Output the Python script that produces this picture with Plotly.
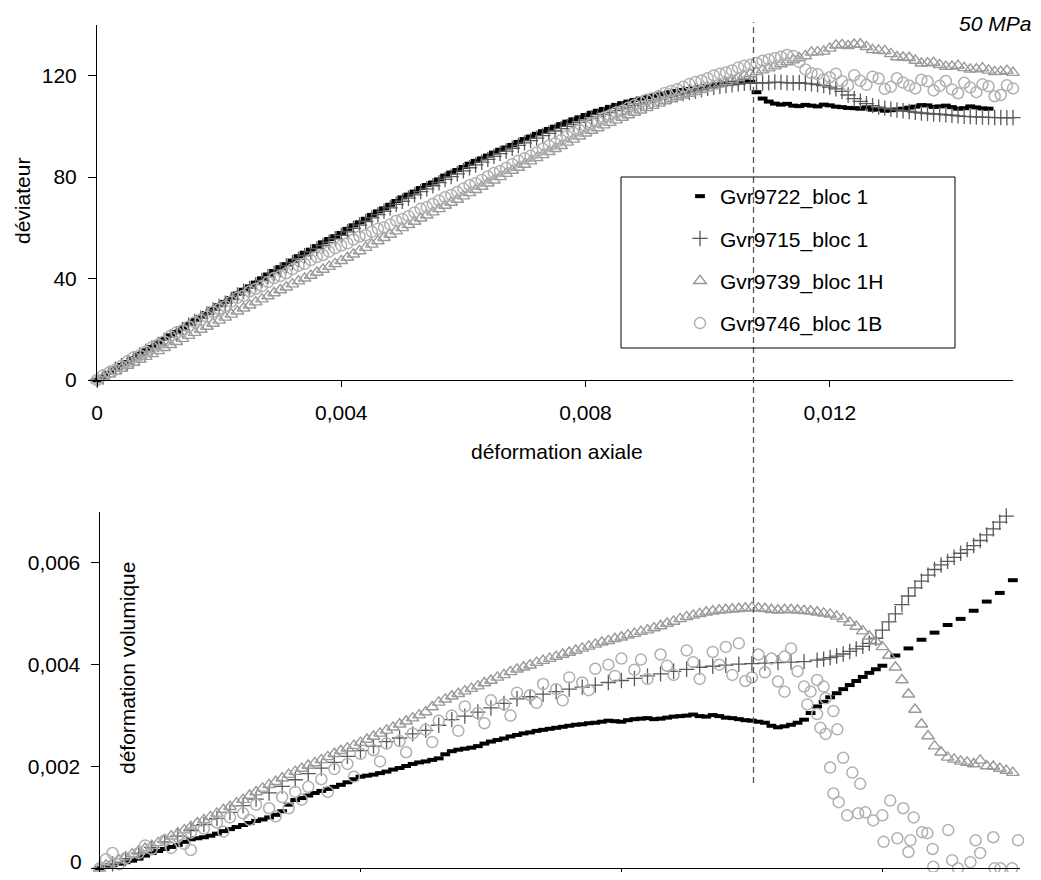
import plotly.graph_objects as go

# ---------------- data ----------------
series_names = ["Gvr9722_bloc 1", "Gvr9715_bloc 1", "Gvr9739_bloc 1H", "Gvr9746_bloc 1B"]

# axial strain (top panel)
strain_top = [
    0.0000, 0.0001, 0.0002, 0.0003, 0.0004, 0.0005, 0.0006, 0.0007, 0.0008, 0.0009,
    0.0010, 0.0011, 0.0012, 0.0013, 0.0014, 0.0015, 0.0016, 0.0017, 0.0018, 0.0019,
    0.0020, 0.0021, 0.0022, 0.0023, 0.0024, 0.0025, 0.0026, 0.0027, 0.0028, 0.0029,
    0.0030, 0.0031, 0.0032, 0.0033, 0.0034, 0.0035, 0.0036, 0.0037, 0.0038, 0.0039,
    0.0040, 0.0041, 0.0042, 0.0043, 0.0044, 0.0045, 0.0046, 0.0047, 0.0048, 0.0049,
    0.0050, 0.0051, 0.0052, 0.0053, 0.0054, 0.0055, 0.0056, 0.0057, 0.0058, 0.0059,
    0.0060, 0.0061, 0.0062, 0.0063, 0.0064, 0.0065, 0.0066, 0.0067, 0.0068, 0.0069,
    0.0070, 0.0071, 0.0072, 0.0073, 0.0074, 0.0075, 0.0076, 0.0077, 0.0078, 0.0079,
    0.0080, 0.0081, 0.0082, 0.0083, 0.0084, 0.0085, 0.0086, 0.0087, 0.0088, 0.0089,
    0.0090, 0.0091, 0.0092, 0.0093, 0.0094, 0.0095, 0.0096, 0.0097, 0.0098, 0.0099,
    0.0100, 0.0101, 0.0102, 0.0103, 0.0104, 0.0105, 0.0106, 0.0107, 0.0108, 0.0109,
    0.0110, 0.0111, 0.0112, 0.0113, 0.0114, 0.0115, 0.0116, 0.0117, 0.0118, 0.0119,
    0.0120, 0.0121, 0.0122, 0.0123, 0.0124, 0.0125, 0.0126, 0.0127, 0.0128, 0.0129,
    0.0130, 0.0131, 0.0132, 0.0133, 0.0134, 0.0135, 0.0136, 0.0137, 0.0138, 0.0139,
    0.0140, 0.0141, 0.0142, 0.0143, 0.0144, 0.0145, 0.0146, 0.0147, 0.0148, 0.0149,
    0.0150]

# deviatoric stress (MPa)
dev_9722 = [
    0, 1.3, 2.8, 4.5, 5.9, 7.1, 8.6, 10.3, 11.7, 13.0,
    14.5, 16.2, 17.6, 18.9, 20.4, 22.1, 23.6, 24.9, 26.4, 28.1,
    29.5, 30.8, 32.3, 34.1, 35.6, 36.9, 38.4, 40.1, 41.6, 43.0,
    44.5, 45.7, 47.1, 48.8, 50.2, 51.4, 52.8, 54.3, 55.6, 56.7,
    58.0, 59.6, 61.0, 62.2, 63.6, 65.1, 66.5, 67.7, 69.1, 70.6,
    72.0, 73.1, 74.3, 75.7, 76.9, 77.9, 79.1, 80.6, 81.8, 82.8,
    84.0, 85.3, 86.4, 87.4, 88.5, 89.7, 90.8, 91.7, 92.7, 93.9,
    95.0, 96.0, 97.1, 98.1, 99.0, 99.9, 100.9, 101.9, 102.8, 103.6,
    104.5, 105.4, 106.2, 106.9, 107.7, 108.5, 109.2, 109.8, 110.4, 111.0,
    111.5, 112.1, 112.6, 113.0, 113.5, 114.0, 114.4, 114.8, 115.2, 115.6,
    116.0, 116.3, 116.6, 116.9, 117.2, 117.5, 117.8, 117.6, 113.5, 111.0,
    109.8, 109.0, 108.6, 108.9, 108.2, 108.0, 108.5, 108.2, 107.9, 108.6,
    108.3, 107.8, 107.6, 107.3, 107.2, 107.0, 107.5, 106.6, 106.8, 106.2,
    106.4, 106.7, 107.0, 107.4, 107.8, 108.4, 108.3, 107.7, 107.9, 108.2,
    107.6, 107.0, 107.2, 107.9, 107.5, 107.1, 107.0, None, None, None,
    None]

dev_9715 = [
    0, 1.2, 2.7, 4.3, 5.6, 6.9, 8.4, 9.9, 11.3, 12.6,
    14.0, 15.6, 17.0, 18.3, 19.9, 21.6, 23.1, 24.4, 26.0, 27.6,
    29.0, 30.3, 31.8, 33.5, 34.9, 36.1, 37.6, 39.3, 40.8, 42.0,
    43.5, 45.0, 46.3, 47.6, 49.0, 50.5, 51.8, 53.0, 54.3, 55.7,
    57.0, 58.4, 59.8, 61.1, 62.5, 63.9, 65.2, 66.5, 67.9, 69.3,
    70.5, 71.7, 73.0, 74.3, 75.4, 76.6, 77.8, 79.1, 80.2, 81.3,
    82.5, 83.7, 84.8, 85.9, 87.0, 88.2, 89.3, 90.3, 91.4, 92.5,
    93.5, 94.4, 95.4, 96.4, 97.3, 98.2, 99.1, 100.0, 100.8, 101.6,
    102.5, 103.3, 104.0, 104.7, 105.5, 106.2, 106.9, 107.6, 108.3, 108.9,
    109.5, 110.2, 110.8, 111.4, 112.0, 112.5, 113.0, 113.5, 114.0, 114.5,
    115.0, 115.4, 115.8, 116.1, 116.4, 116.7, 117.0, 117.2, 117.3, 117.1,
    117.2, 117.5, 117.4, 117.2, 117.1, 117.3, 117.0, 116.8, 116.5, 116.1,
    115.5, 114.8, 113.8, 112.4, 111.0, 109.9, 109.0, 108.2, 107.6, 107.2,
    106.8, 106.5, 106.2, 105.9, 105.6, 105.3, 105.1, 104.9, 104.8, 104.6,
    104.4, 104.2, 104.0, 103.9, 103.8, 103.7, 103.6, 103.5, 103.5, 103.4,
    103.5]

dev_9739 = [
    0, 1.0, 2.2, 3.4, 4.5, 5.7, 6.9, 8.1, 9.2, 10.3,
    11.5, 12.7, 13.9, 15.1, 16.3, 17.5, 18.7, 19.9, 21.1, 22.3,
    23.5, 24.7, 25.9, 27.1, 28.3, 29.5, 30.7, 31.9, 33.1, 34.3,
    35.5, 36.6, 37.8, 39.0, 40.1, 41.2, 42.4, 43.6, 44.7, 45.8,
    47.0, 48.3, 49.6, 50.9, 52.2, 53.5, 54.8, 56.1, 57.4, 58.7,
    60.0, 61.2, 62.5, 63.8, 65.0, 66.2, 67.5, 68.8, 70.0, 71.2,
    72.5, 73.8, 75.0, 76.3, 77.6, 78.8, 80.1, 81.4, 82.6, 83.8,
    85.0, 86.3, 87.6, 88.8, 90.0, 91.2, 92.4, 93.7, 94.9, 96.1,
    97.3, 98.4, 99.4, 100.5, 101.5, 102.5, 103.5, 104.5, 105.5, 106.4,
    107.3, 108.2, 109.1, 110.0, 110.8, 111.6, 112.3, 113.0, 113.7, 114.4,
    115.1, 115.9, 116.7, 117.5, 118.3, 119.1, 119.9, 120.7, 121.5, 122.2,
    123.0, 123.8, 124.6, 125.4, 126.2, 127.0, 127.8, 129.2, 129.3, 129.6,
    130.8, 132.0, 132.2, 131.8, 132.3, 132.4, 131.4, 130.2, 130.0, 129.8,
    128.6, 127.4, 127.2, 127.1, 126.0, 124.9, 125.0, 125.2, 124.3, 123.6,
    123.7, 124.0, 123.1, 122.5, 122.6, 123.0, 122.1, 121.5, 121.6, 122.0,
    121.2]

dev_9746 = [
    0, 1.8, 3.0, 4.0, 5.5, 7.4, 8.9, 9.8, 11.2, 12.9,
    14.0, 15.2, 17.3, 18.7, 19.6, 21.0, 22.8, 23.6, 25.0, 26.8,
    28.0, 29.1, 30.9, 32.4, 33.2, 34.9, 36.0, 37.0, 38.6, 40.2,
    41.0, 42.1, 43.7, 45.1, 45.8, 47.3, 48.5, 49.3, 50.6, 52.0,
    53.0, 53.9, 55.4, 56.6, 57.1, 58.5, 59.6, 60.2, 61.3, 62.8,
    63.5, 64.6, 66.1, 67.5, 68.2, 69.4, 70.8, 72.1, 73.0, 74.1,
    75.5, 76.8, 77.6, 78.9, 80.3, 81.6, 82.4, 83.6, 85.1, 86.5,
    87.5, 88.4, 89.7, 91.2, 92.4, 93.3, 94.6, 96.2, 97.5, 98.6,
    100.0, 101.2, 102.0, 103.3, 104.3, 105.5, 106.2, 107.4, 108.4, 109.6,
    110.5, 111.1, 112.0, 113.2, 114.0, 114.7, 115.6, 116.7, 117.5, 118.1,
    119.0, 120.1, 120.8, 121.3, 122.1, 123.2, 123.9, 124.3, 125.0, 125.9,
    126.4, 126.9, 127.5, 128.2, 127.8, 125.4, 122.5, 121.0, 120.6, 118.5,
    119.4, 120.8, 117.8, 116.2, 120.2, 118.0, 116.4, 119.6, 118.9, 114.8,
    115.6, 119.0, 117.3, 116.1, 115.0, 118.4, 117.8, 114.2, 116.0, 117.9,
    114.6, 113.1, 117.2, 115.4, 113.5, 116.6, 115.8, 111.9, 112.4, 116.2,
    115.0]

# axial strain (bottom panel)
strain_bot = [
    0.0000, 0.0001, 0.0002, 0.0003, 0.0004, 0.0005, 0.0006, 0.0007, 0.0008, 0.0009,
    0.0010, 0.0011, 0.0012, 0.0013, 0.0014, 0.0015, 0.0016, 0.0017, 0.0018, 0.0019,
    0.0020, 0.0021, 0.0022, 0.0023, 0.0024, 0.0025, 0.0026, 0.0027, 0.0028, 0.0029,
    0.0030, 0.0031, 0.0032, 0.0033, 0.0034, 0.0035, 0.0036, 0.0037, 0.0038, 0.0039,
    0.0040, 0.0041, 0.0042, 0.0043, 0.0044, 0.0045, 0.0046, 0.0047, 0.0048, 0.0049,
    0.0050, 0.0051, 0.0052, 0.0053, 0.0054, 0.0055, 0.0056, 0.0057, 0.0058, 0.0059,
    0.0060, 0.0061, 0.0062, 0.0063, 0.0064, 0.0065, 0.0066, 0.0067, 0.0068, 0.0069,
    0.0070, 0.0071, 0.0072, 0.0073, 0.0074, 0.0075, 0.0076, 0.0077, 0.0078, 0.0079,
    0.0080, 0.0081, 0.0082, 0.0083, 0.0084, 0.0085, 0.0086, 0.0087, 0.0088, 0.0089,
    0.0090, 0.0091, 0.0092, 0.0093, 0.0094, 0.0095, 0.0096, 0.0097, 0.0098, 0.0099,
    0.0100, 0.0101, 0.0102, 0.0103, 0.0104, 0.0105, 0.0106, 0.0107, 0.0108, 0.0109,
    0.0110, 0.0111, 0.0112, 0.0113, 0.0114, 0.0115, 0.0116, 0.0117, 0.0118, 0.0119,
    0.0120, 0.0121, 0.0122, 0.0123, 0.0124, 0.0125, 0.0126, 0.0127, 0.0128, 0.0129,
    0.0130, 0.0131, 0.0132, 0.0133, 0.0134, 0.0135, 0.0136, 0.0137, 0.0138, 0.0139,
    0.0140]

# volumetric strain
vol_9722 = [
    0.00000, 0.00003, 0.00006, 0.00009, 0.00012, 0.00015, 0.00019, 0.00025, 0.00030, 0.00034,
    0.00038, 0.00042, 0.00046, 0.00052, 0.00057, 0.00059, 0.00061, 0.00064, 0.00068, 0.00073,
    0.00077, 0.00081, 0.00085, 0.00089, 0.00093, 0.00096, 0.00100, 0.00105, 0.00112, 0.00125,
    0.00134, 0.00138, 0.00143, 0.00148, 0.00152, 0.00156, 0.00160, 0.00164, 0.00169, 0.00175,
    0.00180, 0.00182, 0.00184, 0.00187, 0.00190, 0.00194, 0.00197, 0.00201, 0.00205, 0.00208,
    0.00210, 0.00213, 0.00216, 0.00224, 0.00230, 0.00233, 0.00235, 0.00237, 0.00240, 0.00245,
    0.00249, 0.00252, 0.00255, 0.00259, 0.00262, 0.00265, 0.00267, 0.00270, 0.00272, 0.00274,
    0.00276, 0.00278, 0.00280, 0.00282, 0.00283, 0.00285, 0.00286, 0.00288, 0.00290, 0.00289,
    0.00288, 0.00291, 0.00293, 0.00294, 0.00295, 0.00293, 0.00294, 0.00296, 0.00298, 0.00299,
    0.00300, 0.00302, 0.00299, 0.00298, 0.00301, 0.00299, 0.00296, 0.00295, 0.00293, 0.00291,
    0.00290, 0.00288, 0.00286, 0.00280, 0.00277, 0.00279, 0.00282, 0.00286, 0.00292, 0.00305,
    0.00318, 0.00327, 0.00336, 0.00344, 0.00352, 0.00360, 0.00368, 0.00376, 0.00384, 0.00391,
    0.00398, None, 0.00418, None, 0.00432, None, 0.00449, None, 0.00463, None,
    0.00478, None, 0.00490, None, 0.00506, None, 0.00524, None, 0.00541, None,
    0.00566]

vol_9739 = [
    0.00000, 0.00006, 0.00011, 0.00016, 0.00022, 0.00028, 0.00033, 0.00039, 0.00044, 0.00050,
    0.00056, 0.00063, 0.00069, 0.00075, 0.00082, 0.00089, 0.00095, 0.00101, 0.00108, 0.00115,
    0.00121, 0.00128, 0.00135, 0.00143, 0.00150, 0.00157, 0.00164, 0.00170, 0.00177, 0.00184,
    0.00190, 0.00196, 0.00202, 0.00207, 0.00213, 0.00219, 0.00225, 0.00231, 0.00236, 0.00241,
    0.00247, 0.00253, 0.00259, 0.00265, 0.00271, 0.00277, 0.00283, 0.00289, 0.00295, 0.00301,
    0.00307, 0.00317, 0.00326, 0.00332, 0.00338, 0.00343, 0.00348, 0.00353, 0.00358, 0.00364,
    0.00369, 0.00375, 0.00380, 0.00386, 0.00391, 0.00395, 0.00399, 0.00404, 0.00408, 0.00412,
    0.00416, 0.00420, 0.00424, 0.00428, 0.00432, 0.00436, 0.00440, 0.00444, 0.00447, 0.00451,
    0.00454, 0.00458, 0.00461, 0.00465, 0.00468, 0.00472, 0.00476, 0.00481, 0.00485, 0.00490,
    0.00494, 0.00497, 0.00500, 0.00503, 0.00505, 0.00507, 0.00508, 0.00509, 0.00510, 0.00511,
    0.00512, 0.00511, 0.00510, 0.00508, 0.00507, 0.00508, 0.00508, 0.00507, 0.00506, 0.00505,
    0.00503, 0.00501, 0.00499, 0.00495, 0.00490, 0.00483, 0.00475, 0.00466, 0.00456, 0.00446,
    0.00435, 0.00418, 0.00395, 0.00370, 0.00342, 0.00312, 0.00283, 0.00260, 0.00240, 0.00228,
    0.00218, 0.00214, 0.00210, 0.00208, 0.00205, 0.00212, 0.00201, 0.00200, 0.00196, 0.00192,
    0.00188]

strain_bot_9715 = [
    0.0000, 0.0002, 0.0004, 0.0006, 0.0008, 0.0010, 0.0012, 0.0014, 0.0016, 0.0018,
    0.0020, 0.0022, 0.0024, 0.0026, 0.0028, 0.0030, 0.0032, 0.0034, 0.0036, 0.0038,
    0.0040, 0.0042, 0.0044, 0.0046, 0.0048, 0.0050, 0.0052, 0.0054, 0.0056, 0.0058,
    0.0060, 0.0062, 0.0064, 0.0066, 0.0068, 0.0070, 0.0072, 0.0074, 0.0076, 0.0078,
    0.0080, 0.0082, 0.0084, 0.0086, 0.0088, 0.0090, 0.0092, 0.0094, 0.0096, 0.0098,
    0.0100, 0.0102, 0.0104, 0.0106, 0.0108, 0.0110,
    0.0111, 0.0112, 0.0113, 0.0114, 0.0115, 0.0116, 0.0117, 0.0118, 0.0119, 0.0120,
    0.0121, 0.0122, 0.0123, 0.0124, 0.0125, 0.0126, 0.0127, 0.0128, 0.0129, 0.0130,
    0.0131, 0.0132, 0.0133, 0.0134, 0.0135, 0.0136, 0.0137, 0.0138, 0.0139]

vol_9715 = [
    0.00000, 0.00009, 0.00019, 0.00030, 0.00041, 0.00052, 0.00063, 0.00074, 0.00086, 0.00098,
    0.00110, 0.00123, 0.00136, 0.00148, 0.00161, 0.00174, 0.00186, 0.00197, 0.00208, 0.00220,
    0.00231, 0.00240, 0.00249, 0.00256, 0.00264, 0.00271, 0.00281, 0.00292, 0.00299, 0.00307,
    0.00315, 0.00324, 0.00333, 0.00337, 0.00342, 0.00347, 0.00352, 0.00356, 0.00360, 0.00365,
    0.00369, 0.00373, 0.00378, 0.00382, 0.00387, 0.00391, 0.00395, 0.00397, 0.00399, 0.00401,
    0.00402, 0.00403, 0.00404, 0.00405, 0.00406, 0.00409,
    0.00411, 0.00414, 0.00417, 0.00421, 0.00426, 0.00431, 0.00436, 0.00442, 0.00452, 0.00468,
    0.00484, 0.00500, 0.00518, 0.00535, 0.00551, 0.00564, 0.00576, 0.00587, 0.00596, 0.00603,
    0.00611, 0.00619, 0.00626, 0.00634, 0.00644, 0.00655, 0.00667, 0.00680, 0.00692]

strain_bot_9746 = [
    0.0000, 0.0001, 0.0002, 0.0003, 0.0004, 0.0006, 0.0007, 0.0008, 0.0010, 0.0011,
    0.0012, 0.0013, 0.0014, 0.0014, 0.0016, 0.0018, 0.0019, 0.0020, 0.0022, 0.0023,
    0.0024, 0.0026, 0.0027, 0.0028, 0.0029, 0.0030, 0.0031, 0.0032, 0.0034, 0.0035,
    0.0036, 0.0038, 0.0039, 0.0040, 0.0042, 0.0043, 0.0044, 0.0046, 0.0047, 0.0048,
    0.0050, 0.0051, 0.0052, 0.0054, 0.0055, 0.0056, 0.0058, 0.0059, 0.0060, 0.0062,
    0.0063, 0.0064, 0.0066, 0.0067, 0.0068, 0.0070, 0.0071, 0.0072, 0.0074, 0.0075,
    0.0076, 0.0078, 0.0079, 0.0080, 0.0082, 0.0083, 0.0084, 0.0086, 0.0087, 0.0088,
    0.0090, 0.0091, 0.0092, 0.0094, 0.0095,
    0.0096, 0.0097, 0.0098, 0.0099, 0.0100, 0.0101, 0.0102, 0.0103, 0.0104, 0.0105,
    0.0105, 0.0106, 0.0107, 0.0108, 0.01085, 0.0109, 0.0110, 0.0110, 0.0111, 0.01113,
    0.01105, 0.01113, 0.01125, 0.01131, 0.0112, 0.0114, 0.01154, 0.01166, 0.01125, 0.01133,
    0.01146, 0.01163, 0.01174, 0.01186, 0.0120, 0.01212, 0.01232, 0.01248, 0.01202, 0.01223,
    0.01243, 0.0124, 0.01261, 0.01269, 0.01277, 0.01278, 0.01301, 0.01307, 0.01316, 0.01335,
    0.01343, 0.0135, 0.0137, 0.01372, 0.01381, 0.01399, 0.01408]

vol_9746 = [
    0.00000, 0.00018, 0.00030, 0.00008, 0.00020, 0.00030, 0.00045, 0.00038, 0.00055, 0.00040,
    0.00062, 0.00048, 0.00070, 0.00036, 0.00078, 0.00090, 0.00072, 0.00100, 0.00108, 0.00095,
    0.00125, 0.00118, 0.00102, 0.00140, 0.00118, 0.00150, 0.00135, 0.00160, 0.00175, 0.00150,
    0.00195, 0.00205, 0.00180, 0.00225, 0.00232, 0.00210, 0.00245, 0.00250, 0.00228, 0.00265,
    0.00272, 0.00248, 0.00290, 0.00300, 0.00270, 0.00318, 0.00305, 0.00285, 0.00330, 0.00322,
    0.00300, 0.00345, 0.00340, 0.00325, 0.00362, 0.00352, 0.00330, 0.00375, 0.00365, 0.00350,
    0.00392, 0.00400, 0.00378, 0.00412, 0.00390, 0.00410, 0.00372, 0.00420, 0.00398, 0.00380,
    0.00428, 0.00405, 0.00372, 0.00425, 0.00400,
    0.00435, 0.00380, 0.00442, 0.00368, 0.00375, 0.00420, 0.00385, 0.00412, 0.00367, 0.00416,
    0.00347, 0.00432, 0.00387, 0.00357, 0.00322, 0.00347, 0.00303, 0.00370, 0.00357, 0.00334,
    0.00276, 0.00264, 0.00309, 0.00273, 0.00198, 0.00217, 0.00188, 0.00166, 0.00147, 0.00130,
    0.00104, 0.00108, 0.00110, 0.00094, 0.00104, 0.00133, 0.00118, 0.00100, 0.00052, 0.00059,
    0.00055, 0.00032, 0.00071, 0.00069, 0.00038, 0.00003, 0.00075, 0.00016, 0.00000, 0.00012,
    0.00055, 0.00030, 0.00061, 0.00000, 0.00000, 0.00000, 0.00055]

x_ticks = [0, 0.004, 0.008, 0.012]
x_tick_text = ["0", "0,004", "0,008", "0,012"]
dev_ticks = [0, 40, 80, 120]
dev_tick_text = ["0", "40", "80", "120"]
vol_ticks = [0, 0.002, 0.004, 0.006]
# the "0" of this axis sits on the window's bottom edge: it is drawn as a
# separate label, nudged up so it is not clipped
vol_tick_text = ["", "0,002", "0,004", "0,006"]
vol_zero_label = "0"

# ---------------- layout helpers ----------------
# the page body keeps its 8px margin: figure sized so the page is exactly 1041x880
FW, FH = 1025, 864
OFF = 8


def px(X):
    return (X - OFF) / FW


def py(Y):
    return 1 - (Y - OFF) / FH


FONT = "Liberation Sans, Arial, sans-serif"
styles = [
    dict(symbol="line-ew", size=7, color="black", line=dict(color="black", width=4)),
    dict(symbol="cross-thin", size=11, color="#5a5a5a", line=dict(color="#5a5a5a", width=1.3)),
    dict(symbol="triangle-up-open", size=11, color="#9a9a9a", line=dict(color="#9a9a9a", width=1.4)),
    dict(symbol="circle-open", size=11, color="#b0b0b0", line=dict(color="#b0b0b0", width=1.5)),
]

fig = go.Figure()
top_y = [dev_9722, dev_9715, dev_9739, dev_9746]
for i, (name, ys) in enumerate(zip(series_names, top_y)):
    fig.add_trace(go.Scatter(x=strain_top, y=ys, mode="markers", name=name,
                             marker=styles[i], legendgroup=str(i), cliponaxis=False,
                             xaxis="x", yaxis="y"))

bot_x = [strain_bot, strain_bot_9715, strain_bot, strain_bot_9746]
bot_y = [vol_9722, vol_9715, vol_9739, vol_9746]
for i, (xs, ys) in enumerate(zip(bot_x, bot_y)):
    fig.add_trace(go.Scatter(x=xs, y=ys, mode="markers", name=series_names[i],
                             marker=styles[i], legendgroup=str(i), showlegend=False,
                             cliponaxis=False, xaxis="x2", yaxis="y2"))

axis_common = dict(showline=True, linecolor="black", linewidth=1, showgrid=False,
                   zeroline=False, ticks="outside", tickcolor="black", tickwidth=1,
                   automargin=False, ticklabeloverflow="allow",
                   tickfont=dict(family=FONT, size=21, color="black"))

fig.update_layout(
    template="none",
    width=FW, height=FH,
    margin=dict(l=0, r=0, t=0, b=0, autoexpand=False),
    paper_bgcolor="white", plot_bgcolor="white",
    font=dict(family=FONT, size=21, color="black"),
    xaxis=dict(domain=[px(97), px(1013)], range=[0, 0.015], anchor="y",
               tickvals=x_ticks, ticktext=x_tick_text, ticklen=6,
               ticklabelstandoff=8, **axis_common),
    yaxis=dict(domain=[py(380), py(25)], range=[0, 140], anchor="x",
               tickvals=dev_ticks, ticktext=dev_tick_text, ticklen=8,
               ticklabelstandoff=7, **axis_common),
    xaxis2=dict(domain=[px(99.5), px(1020)], range=[0, 0.01411], anchor="y2",
                tickvals=x_ticks, showticklabels=False, ticklen=7, **axis_common),
    yaxis2=dict(domain=[py(868.3), py(512)], range=[0, 0.007], anchor="x2",
                tickvals=vol_ticks, ticktext=vol_tick_text, ticklen=8,
                ticklabelstandoff=6, **axis_common),
    legend=dict(x=px(680), y=py(176), xanchor="left", yanchor="top",
                bgcolor="rgba(0,0,0,0)", borderwidth=0, tracegroupgap=12,
                itemwidth=30, font=dict(family=FONT, size=21, color="black")),
    showlegend=True,
)

# dashed vertical reference line across both panels
fig.add_shape(type="line", xref="paper", yref="paper",
              x0=px(753.5), x1=px(753.5), y0=py(783), y1=py(22),
              line=dict(color="#555555", width=1.3, dash="6px,4px"))
# legend frame
fig.add_shape(type="rect", xref="paper", yref="paper",
              x0=px(621), x1=px(955), y0=py(348), y1=py(177),
              line=dict(color="black", width=1), fillcolor="rgba(0,0,0,0)")

annos = [
    dict(text="déviateur", x=px(22), y=py(201), textangle=-90),
    dict(text="déformation axiale", x=px(557), y=py(451), textangle=0),
    dict(text="déformation volumique", x=px(127), y=py(668), textangle=-90),
]
for a in annos:
    fig.add_annotation(xref="paper", yref="paper", showarrow=False,
                       xanchor="center", yanchor="middle",
                       font=dict(family=FONT, size=21, color="black"), **a)
fig.add_annotation(xref="paper", yref="paper", showarrow=False, text="<i>50 MPa</i>",
                   x=px(1033), y=py(23), xanchor="right", yanchor="middle",
                   font=dict(family=FONT, size=21, color="black"))
fig.add_annotation(xref="paper", yref="paper", showarrow=False, text=vol_zero_label,
                   x=px(84), y=py(861), xanchor="right", yanchor="middle",
                   font=dict(family=FONT, size=21, color="black"))

fig.write_html("out.html")
